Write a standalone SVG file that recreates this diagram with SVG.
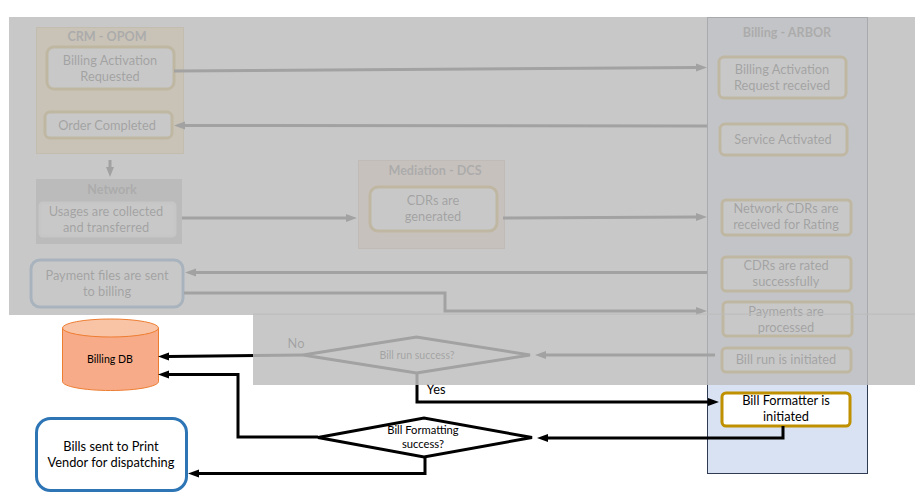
<svg xmlns="http://www.w3.org/2000/svg" width="923" height="495" viewBox="0 0 923 495">
<style>
text{font-family:Lato,"Liberation Sans",sans-serif;text-anchor:middle;fill:#000}
.t{font-size:12.8px}
.h{font-size:12.6px;font-weight:700;fill:#404040}
.s{font-size:10.6px}
.gold{fill:#fff;stroke:#bf9000;stroke-width:3}
.panel{fill:#ffd58a;stroke:#d6b656;stroke-width:1}
.blue{fill:#fff;stroke:#2e75b6;stroke-width:3}
.dia{fill:#fff;stroke:#000;stroke-width:3}
.c{fill:none;stroke:#000;stroke-width:3}
.a{fill:#000}
.veil{fill:#bebebe;fill-opacity:.85}
</style>
<rect width="923" height="495" fill="#fff"/>
<g id="billing-panel"><rect x="707.5" y="17.5" width="160" height="456" fill="#d9e2f3" stroke="#2f3b52"/><text class="h" x="787" y="37">Billing - ARBOR</text></g>
<g id="crm-panel"><rect class="panel" x="36.5" y="27.5" width="147" height="126"/><text class="h" x="107" y="41">CRM - OPOM</text></g>
<g id="network-panel"><rect x="36" y="179" width="146" height="65" fill="#a6a6a6"/><text class="h" x="112" y="194">Network</text></g>
<g id="mediation-panel"><rect x="358.500" y="160.500" width="146" height="88" fill="#f7cdb4" stroke="#c9a58c"/><text class="h" x="435" y="175">Mediation - DCS</text></g>
<g id="billing-activation-requested"><rect class="gold" x="47" y="47" width="127" height="42" rx="7"/><text class="t" x="110" y="65">Billing Activation</text><text class="t" x="110" y="81">Requested</text></g>
<g id="order-completed"><rect class="gold" x="45" y="112" width="127" height="26" rx="5"/><text class="t" x="107" y="130">Order Completed</text></g>
<g id="usages"><rect x="40" y="203" width="135" height="33" rx="3" fill="#fff" stroke="#ededed" stroke-width="3"/><text class="t" x="106" y="216">Usages are collected</text><text class="t" x="106" y="232">and transferred</text></g>
<g id="cdrs-generated"><rect class="gold" x="370" y="187" width="127" height="44" rx="8"/><text class="t" x="433" y="205">CDRs are</text><text class="t" x="433" y="221">generated</text></g>
<g id="payment-files"><rect class="blue" x="31" y="260" width="152" height="47" rx="9"/><text class="t" x="107" y="280">Payment files are sent</text><text class="t" x="107" y="296">to billing</text></g>
<g id="activation-received"><rect class="gold" x="719" y="57" width="127" height="41" rx="5"/><text class="t" x="782" y="74">Billing Activation</text><text class="t" x="782" y="90">Request received</text></g>
<g id="service-activated"><rect class="gold" x="720" y="124" width="127" height="31" rx="5"/><text class="t" x="783" y="144">Service Activated</text></g>
<g id="network-cdrs"><rect class="gold" x="722" y="200" width="129" height="35" rx="4"/><text class="t" x="786" y="213">Network CDRs are</text><text class="t" x="786" y="229">received for Rating</text></g>
<g id="cdrs-rated"><rect class="gold" x="722" y="257" width="129" height="34" rx="4"/><text class="t" x="786" y="270">CDRs are rated</text><text class="t" x="786" y="286">successfully</text></g>
<g id="payments-processed"><rect class="gold" x="723" y="302" width="129" height="34" rx="4"/><text class="t" x="786" y="316">Payments are</text><text class="t" x="786" y="332">processed</text></g>
<g id="bill-run-initiated"><rect class="gold" x="722" y="348" width="129" height="24" rx="4"/><text class="t" x="786" y="364">Bill run is initiated</text></g>
<g id="bill-formatter"><rect class="gold" x="722" y="393" width="128" height="33" rx="4"/><text class="t" x="786" y="405">Bill Formatter is</text><text class="t" x="786" y="421">initiated</text></g>
<g id="bill-run-success"><polygon class="dia" points="303,355 416.500,337 530,355 416.500,373"/><text class="s" x="417" y="359">Bill run success?</text></g>
<g id="bill-formatting-success"><polygon class="dia" points="318,437.500 424,418 532,437.500 424,457"/><text class="s" x="423" y="434" style="font-size:11.2px">Bill Formatting</text><text class="s" x="423" y="448" style="font-size:11.2px">success?</text></g>
<g id="billing-db"><path d="M62.500 328V381.500C62.500 386.500 84 390.500 110.500 390.500S158.500 386.500 158.500 381.500V328Z" fill="#f8ab88" stroke="#ed7d31"/><ellipse cx="110.500" cy="328" rx="48" ry="9" fill="#f9c4a6" stroke="#ed7d31"/><text class="s" x="110" y="363">Billing DB</text></g>
<g id="bills-sent"><rect class="blue" x="36.500" y="418.500" width="150" height="72" rx="14"/><text class="t" x="111" y="451">Bills sent to Print</text><text class="t" x="111" y="467">Vendor for dispatching</text></g>
<g id="connectors">
<path class="c" d="M174 71L697 67.500"/><path class="a" d="M707 67.500l-11-4v8z"/>
<path class="c" d="M707 126L184 125.500"/><path class="a" d="M174 125.500l11-4v8z"/>
<path class="c" d="M110 160V168"/><path class="a" d="M110 177l-4-10h8z"/>
<path class="c" d="M182 218H347"/><path class="a" d="M357 218l-11-4v8z"/>
<path class="c" d="M503 218L697 217"/><path class="a" d="M707 217l-11-4v8z"/>
<path class="c" d="M707 272.500H195"/><path class="a" d="M185 272.500l11-4v8z"/>
<path class="c" d="M184 293H445V311H697"/><path class="a" d="M707 311l-11-4v8z"/>
<path class="c" d="M715 355H545"/><path class="a" d="M535 355l11-4v8z"/>
<path class="c" d="M303 355L168 356.500"/><path class="a" d="M158 356.500l11-4v8z"/>
<path class="c" d="M417 373V402H709"/><path class="a" d="M719 402l-11-4v8z"/>
<path class="c" d="M783 426V438H547"/><path class="a" d="M537 438l11-4v8z"/>
<path class="c" d="M318 437H238V374.500H168"/><path class="a" d="M158 374.500l11-4v8z"/>
<path class="c" d="M425 457V473.500H198"/><path class="a" d="M188 473.500l11-4v8z"/>
</g>
<text class="t" x="296" y="348">No</text>
<text class="t" x="436" y="394">Yes</text>
<rect class="veil" x="9" y="17" width="906" height="298"/>
<rect class="veil" x="253" y="315" width="662" height="70"/>
<rect x="253" y="313.500" width="662" height="1.500" fill="#bcbcbc" fill-opacity=".7"/>
</svg>
